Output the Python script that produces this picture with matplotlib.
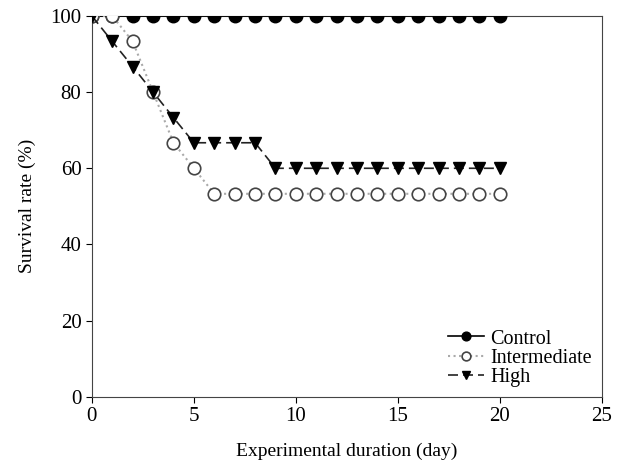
import matplotlib
matplotlib.use('Agg')
import matplotlib.pyplot as plt

days = list(range(0, 21))
control = [100] * 21
intermediate = [100, 100, 93.3, 80, 66.7, 60] + [53.3] * 15
high = [100, 93.3, 86.7, 80, 73.3, 66.7, 66.7, 66.7, 66.7] + [60] * 12

plt.rcParams['font.family'] = ['Liberation Serif', 'DejaVu Serif']
plt.rcParams['font.size'] = 13

fig = plt.figure(figsize=(6.25, 4.69), dpi=100)
ax = fig.add_axes([0.147, 0.154, 0.816, 0.812])

ax.plot(days, control, '-o', color='black', ms=9, lw=1.2, label='Control', zorder=3)
ax.plot(days, intermediate, ':o', color='#aaaaaa', mfc='white', mec='#444444', mew=1.2,
        ms=9, lw=1.5, label='Intermediate', zorder=4)
ax.plot(days, high, '--v', color='#222222', mfc='black', mec='black', ms=9, lw=1.2,
        dashes=(6, 3), label='High', zorder=5)

ax.set_xlim(0, 25)
ax.set_ylim(0, 100)
ax.set_xticks([0, 5, 10, 15, 20, 25])
ax.set_yticks([0, 20, 40, 60, 80, 100])
ax.tick_params(direction='out', length=4, labelsize=15)
for s in ax.spines.values():
    s.set_color('#444444')
ax.set_xlabel('Experimental duration (day)', fontsize=14, labelpad=12)
ax.set_ylabel('Survival rate (%)', fontsize=14, labelpad=10)
ax.legend(loc='lower right', bbox_to_anchor=(1.0, 0.0), frameon=False, fontsize=14.5,
          handlelength=1.8, handletextpad=0.3, labelspacing=0.0, markerscale=0.7,
          borderaxespad=0.1)

fig.savefig('out.png', dpi=100)
